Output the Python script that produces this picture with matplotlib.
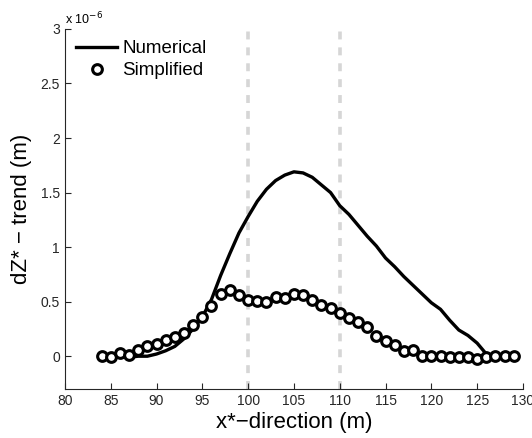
import matplotlib
matplotlib.use("Agg")
import matplotlib.pyplot as plt
import numpy as np

plt.rcParams['font.family'] = ['Liberation Sans', 'DejaVu Sans']

# x positions (m)
x = np.arange(84, 130)

# numerical solution (x 1e-6 m)
numerical = [0.0, -0.01, 0.0, -0.01, 0.0, 0.0, 0.02, 0.05, 0.09, 0.16,
             0.25, 0.36, 0.52, 0.74, 0.94, 1.13, 1.28, 1.42, 1.53, 1.61,
             1.66, 1.69, 1.68, 1.64, 1.57, 1.50, 1.38, 1.30, 1.20, 1.10,
             1.01, 0.90, 0.82, 0.73, 0.65, 0.57, 0.49, 0.43, 0.33, 0.24,
             0.19, 0.12, 0.02, 0.0, 0.0, 0.0]

# simplified model (x 1e-6 m)
simplified = [0.0, -0.005, 0.025, 0.01, 0.06, 0.09, 0.115, 0.145, 0.175, 0.215,
              0.285, 0.355, 0.46, 0.57, 0.61, 0.56, 0.515, 0.51, 0.50, 0.545,
              0.53, 0.57, 0.565, 0.515, 0.47, 0.44, 0.395, 0.35, 0.31, 0.265,
              0.185, 0.14, 0.10, 0.05, 0.055, 0.005, 0.005, 0.0, -0.003, -0.003,
              -0.01, -0.03, -0.005, 0.0, 0.005, 0.005]

marks = [100, 110]

fig = plt.figure(figsize=(5.32, 4.38), dpi=100)
ax = fig.add_axes([0.122, 0.112, 0.861, 0.822])

for m in marks:
    ax.axvline(m, color='#d6d6d6', lw=2.6, ls=(0, (2.2, 2.2)), zorder=1)

ax.plot(x, numerical, color='black', lw=2.4, label='Numerical', zorder=2)
ax.plot(x, simplified, ls='none', marker='o', ms=7, mfc='white', mec='black',
        mew=2.2, label='Simplified', zorder=3)

ax.set_xlim(80, 130)
ax.set_ylim(-0.3, 3)
ax.set_xticks(np.arange(80, 131, 5))
ax.set_yticks([0, 0.5, 1, 1.5, 2, 2.5, 3])
ax.set_yticklabels(['0', '0.5', '1', '1.5', '2', '2.5', '3'])
ax.tick_params(direction='in', labelsize=10, length=4, colors='#262626')
for s in ['top', 'right']:
    ax.spines[s].set_visible(False)
for s in ['left', 'bottom']:
    ax.spines[s].set_color('#262626')

ax.text(0.0, 1.005, r'x 10$^{-6}$', transform=ax.transAxes, fontsize=9,
        ha='left', va='bottom')

ax.set_xlabel('x*\u2212direction (m)', fontsize=16, labelpad=3)
ax.set_ylabel('dZ* \u2212 trend (m)', fontsize=16, labelpad=6)

ax.legend(loc='upper left', frameon=False, fontsize=13.5, handlelength=2.2,
          handletextpad=0.25, borderaxespad=0.5, labelspacing=0.25,
          borderpad=0.1)

fig.savefig('out.png', dpi=100)
